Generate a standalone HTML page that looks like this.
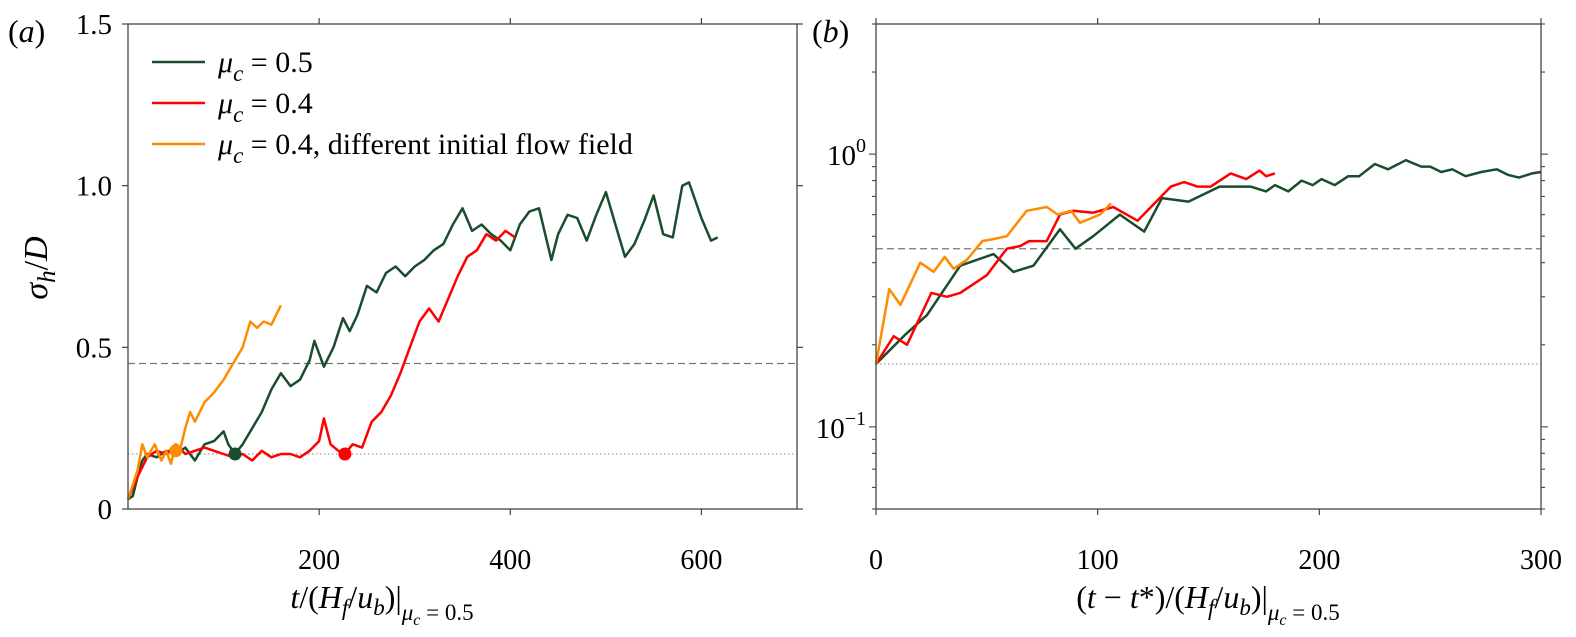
<!DOCTYPE html>
<html><head><meta charset="utf-8"><style>
html,body{margin:0;padding:0;background:#fff;}
svg{display:block;font-family:"Liberation Serif",serif;}
</style></head><body>
<svg id="chart" width="1576" height="637" viewBox="0 0 1576 637" xmlns="http://www.w3.org/2000/svg">
<g id="pa"></g>
<g id="pb"></g>
</svg>
<script>
// Panel (a) data
const aGreenT=[0,5,10,15,20,30,40,50,60,70,80,90,100,105,112,120,130,140,150,160,170,180,190,195,205,215,225,232,240,250,260,270,280,290,300,310,320,330,340,350,360,370,380,390,400,410,420,430,443,450,460,470,480,490,500,510,520,530,540,550,560,570,580,587,600,610,617];
const aGreenV=[0.03,0.04,0.1,0.15,0.17,0.16,0.18,0.17,0.19,0.15,0.2,0.21,0.24,0.2,0.17,0.2,0.25,0.3,0.37,0.42,0.38,0.4,0.46,0.52,0.44,0.5,0.59,0.55,0.6,0.69,0.67,0.73,0.75,0.72,0.75,0.77,0.8,0.82,0.88,0.93,0.86,0.88,0.85,0.83,0.8,0.88,0.92,0.93,0.77,0.85,0.91,0.9,0.83,0.91,0.98,0.88,0.78,0.82,0.89,0.97,0.85,0.84,1.0,1.01,0.9,0.83,0.84];
const aRedT=[0,10,20,30,40,50,60,70,80,90,100,110,120,130,140,150,160,170,180,190,200,205,212,220,227,235,245,255,265,275,285,295,305,315,325,335,345,355,365,375,385,395,405];
const aRedV=[0.03,0.1,0.16,0.18,0.17,0.2,0.17,0.18,0.19,0.18,0.17,0.16,0.17,0.15,0.18,0.16,0.17,0.17,0.16,0.18,0.21,0.28,0.2,0.18,0.17,0.2,0.19,0.27,0.3,0.35,0.42,0.5,0.58,0.62,0.58,0.65,0.72,0.78,0.8,0.85,0.83,0.86,0.84];
const aOrangeT=[0,10,15,20,28,35,40,45,50,55,60,65,70,80,90,100,110,120,128,135,142,150,155,160];
const aOrangeV=[0.03,0.12,0.2,0.16,0.2,0.15,0.18,0.14,0.2,0.19,0.25,0.3,0.27,0.33,0.36,0.4,0.45,0.5,0.58,0.56,0.58,0.57,0.6,0.63];
const aMarkersT=[112,227,50];
const aMarkersV=[0.17,0.17,0.18];
const aXTicks=[200,400,600];
const aYTicks=[0,0.5,1.0,1.5];
const aYTickLabels=["0","0.5","1.0","1.5"];
const refDashed=0.45, refDotted=0.17;
// Panel (b) data
const bGreenT=[0,13,23,38,53,62,71,83,90,98,110,121,129,141,155,169,176,180,186,192,197,201,207,213,218,225,231,239,246,250,255,260,266,273,280,285,290,296,300];
const bGreenV=[0.17,0.217,0.257,0.39,0.43,0.37,0.39,0.53,0.45,0.5,0.6,0.52,0.69,0.67,0.76,0.76,0.73,0.77,0.73,0.8,0.77,0.81,0.77,0.83,0.83,0.92,0.88,0.95,0.9,0.9,0.86,0.88,0.83,0.86,0.88,0.84,0.82,0.85,0.86];
const bRedT=[0,8,14,25,32,38,50,59,65,69,77,83,89,98,107,118,133,139,145,151,160,167,173,176,180];
const bRedV=[0.17,0.215,0.2,0.31,0.3,0.31,0.36,0.45,0.46,0.48,0.48,0.6,0.62,0.61,0.64,0.57,0.76,0.79,0.76,0.76,0.85,0.81,0.87,0.83,0.85];
const bOrangeT=[0,6,11,20,26,31,35,41,48,54,59,68,77,82,88,92,101,106];
const bOrangeV=[0.17,0.32,0.28,0.4,0.37,0.42,0.38,0.41,0.48,0.49,0.5,0.62,0.64,0.6,0.62,0.56,0.6,0.66];
const bXTicks=[0,100,200,300];

const NS="http://www.w3.org/2000/svg";
function mk(parent,tag,attrs,text){const e=document.createElementNS(NS,tag);for(const k in attrs)e.setAttribute(k,attrs[k]);if(text!==undefined)e.textContent=text;parent.appendChild(e);return e;}
const GREEN="#1a4d2e",RED="#ff0000",ORANGE="#ff8c00",AX="#444";

// Panel a scales
const aL=128,aR=797,aT=24,aB=509;
const ax=t=>aL+(t/700)*(aR-aL);
const ay=v=>aB-(v/1.5)*(aB-aT);
const pa=document.getElementById('pa');
function pathD(T,V,fx,fy){return T.map((t,i)=>(i?'L':'M')+fx(t).toFixed(1)+','+fy(V[i]).toFixed(1)).join('');}
let e;
e=mk(pa,'line',{x1:aL,x2:aR,y1:ay(refDashed),y2:ay(refDashed),stroke:'#777','stroke-width':1.3,'stroke-dasharray':'7,4'});


e=mk(pa,'line',{x1:aL,x2:aR,y1:ay(refDotted),y2:ay(refDotted),stroke:'#888','stroke-width':1,'stroke-dasharray':'1.5,2.5'});


const aSeries=[[aGreenT,aGreenV,GREEN,'series-mu-0.5'],[aRedT,aRedV,RED,'series-mu-0.4'],[aOrangeT,aOrangeV,ORANGE,'series-mu-0.4-different-initial']];
for(const s of aSeries){
  e=mk(pa,'path',{d:pathD(s[0],s[1],ax,ay),fill:'none',stroke:s[2],'stroke-width':2.5,'stroke-linejoin':'round'});
  
  
}
const mc=[GREEN,RED,ORANGE];
aMarkersT.forEach((t,i)=>{
  e=mk(pa,'circle',{cx:ax(t),cy:ay(aMarkersV[i]),r:6.5,fill:mc[i]});
  
  
});
e=mk(pa,'rect',{x:aL,y:aT,width:aR-aL,height:aB-aT,fill:'none',stroke:AX,'stroke-width':1.3});


aXTicks.forEach(t=>{
  mk(pa,'line',{x1:ax(t),x2:ax(t),y1:aB,y2:aB+6,stroke:AX,'stroke-width':1.2});
  mk(pa,'line',{x1:ax(t),x2:ax(t),y1:aT,y2:aT-6,stroke:AX,'stroke-width':1.2});
  e=mk(pa,'text',{x:ax(t),y:569,'font-size':28,'text-anchor':'middle'},String(t));
  
  
});
aYTicks.forEach((v,i)=>{
  mk(pa,'line',{x1:aL,x2:aL-6,y1:ay(v),y2:ay(v),stroke:AX,'stroke-width':1.2});
  mk(pa,'line',{x1:aR,x2:aR+6,y1:ay(v),y2:ay(v),stroke:AX,'stroke-width':1.2});
  e=mk(pa,'text',{x:112,y:ay(v)+10,'font-size':29,'text-anchor':'end'},aYTickLabels[i]);
  
  
});
e=mk(pa,'text',{x:8,y:42,'font-size':32},'');
e.innerHTML='(<tspan font-style="italic">a</tspan>)';


e=mk(pa,'text',{x:0,y:0,'font-size':34,transform:'translate(47,268) rotate(-90)','text-anchor':'middle'},'');
e.innerHTML='<tspan font-style="italic">σ</tspan><tspan font-style="italic" font-size="25" dy="8">h</tspan><tspan dy="-8">/</tspan><tspan font-style="italic">D</tspan>';


e=mk(pa,'text',{x:382,y:608,'font-size':32,'text-anchor':'middle'},'');
e.innerHTML='<tspan font-style="italic">t</tspan>/(<tspan font-style="italic">H</tspan><tspan font-style="italic" font-size="23" dy="7">f</tspan><tspan dy="-7">/</tspan><tspan font-style="italic">u</tspan><tspan font-style="italic" font-size="23" dy="7">b</tspan><tspan dy="-7">)|</tspan><tspan font-style="italic" font-size="23" dy="12">μ</tspan><tspan font-style="italic" font-size="16" dy="5">c</tspan><tspan font-size="23" dy="-5"> = 0.5</tspan>';


// legend
const legLabels=['0.5','0.4','0.4, different initial flow field'];
const legCols=[GREEN,RED,ORANGE];
legLabels.forEach((l,i)=>{
  const g=mk(pa,'g',{});
  
  
  const yy=62+i*41;
  mk(g,'line',{x1:152,x2:205,y1:yy,y2:yy,stroke:legCols[i],'stroke-width':2.5});
  const t=mk(g,'text',{x:218,y:yy+10,'font-size':30},'');
  t.innerHTML='<tspan font-style="italic">μ</tspan><tspan font-style="italic" font-size="23" dy="9">c</tspan><tspan dy="-9"> = '+l+'</tspan>';
});

// Panel b
const bL=876,bR=1541,bT=24,bB=509;
const lmin=Math.log10(0.05),lmax=Math.log10(3);
const bx=t=>bL+(t/300)*(bR-bL);
const by=v=>bB-((Math.log10(v)-lmin)/(lmax-lmin))*(bB-bT);
const pb=document.getElementById('pb');
e=mk(pb,'line',{x1:bL,x2:bR,y1:by(refDashed),y2:by(refDashed),stroke:'#777','stroke-width':1.3,'stroke-dasharray':'7,4'});


e=mk(pb,'line',{x1:bL,x2:bR,y1:by(refDotted),y2:by(refDotted),stroke:'#888','stroke-width':1,'stroke-dasharray':'1.5,2.5'});


const bSeries=[[bGreenT,bGreenV,GREEN,'series-b-mu-0.5'],[bRedT,bRedV,RED,'series-b-mu-0.4'],[bOrangeT,bOrangeV,ORANGE,'series-b-mu-0.4-different-initial']];
for(const s of bSeries){
  e=mk(pb,'path',{d:pathD(s[0],s[1],bx,by),fill:'none',stroke:s[2],'stroke-width':2.5,'stroke-linejoin':'round'});
  
  
}
e=mk(pb,'rect',{x:bL,y:bT,width:bR-bL,height:bB-bT,fill:'none',stroke:AX,'stroke-width':1.3});


bXTicks.forEach(t=>{
  mk(pb,'line',{x1:bx(t),x2:bx(t),y1:bB,y2:bB+6,stroke:AX,'stroke-width':1.2});
  mk(pb,'line',{x1:bx(t),x2:bx(t),y1:bT,y2:bT-6,stroke:AX,'stroke-width':1.2});
  e=mk(pb,'text',{x:bx(t),y:569,'font-size':28,'text-anchor':'middle'},String(t));
  
  
});
[0.05,0.06,0.07,0.08,0.09,0.1,0.2,0.3,0.4,0.5,0.6,0.7,0.8,0.9,1,2,3].forEach(v=>{
  const major=(v===0.1||v===1);const len=major?7:4;
  mk(pb,'line',{x1:bL,x2:bL-len,y1:by(v),y2:by(v),stroke:AX,'stroke-width':1.1});
  mk(pb,'line',{x1:bR,x2:bR+len,y1:by(v),y2:by(v),stroke:AX,'stroke-width':1.1});
});
e=mk(pb,'text',{x:866,y:by(1)+11,'font-size':29,'text-anchor':'end'},'');
e.innerHTML='10<tspan font-size="20" dy="-13">0</tspan>';


e=mk(pb,'text',{x:866,y:by(0.1)+11,'font-size':29,'text-anchor':'end'},'');
e.innerHTML='10<tspan font-size="20" dy="-13">−1</tspan>';


e=mk(pb,'text',{x:812,y:42,'font-size':32},'');
e.innerHTML='(<tspan font-style="italic">b</tspan>)';


e=mk(pb,'text',{x:1208,y:608,'font-size':32,'text-anchor':'middle'},'');
e.innerHTML='(<tspan font-style="italic">t</tspan> − <tspan font-style="italic">t</tspan>*)/(<tspan font-style="italic">H</tspan><tspan font-style="italic" font-size="23" dy="7">f</tspan><tspan dy="-7">/</tspan><tspan font-style="italic">u</tspan><tspan font-style="italic" font-size="23" dy="7">b</tspan><tspan dy="-7">)|</tspan><tspan font-style="italic" font-size="23" dy="12">μ</tspan><tspan font-style="italic" font-size="16" dy="5">c</tspan><tspan font-size="23" dy="-5"> = 0.5</tspan>';


</script>
</body></html>
